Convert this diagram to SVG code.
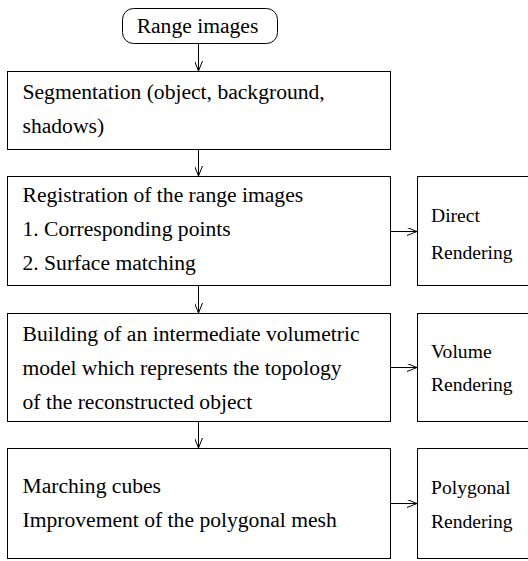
<svg xmlns="http://www.w3.org/2000/svg" width="528" height="561" viewBox="0 0 528 561">
  <style>
    .box { fill: #fff; stroke: #000; stroke-width: 1; }
    .lbl { font-size: 21.6px; fill: #000; }
    .lbl-s { font-size: 19.6px; fill: #000; }
    .wire { fill: none; stroke: #000; stroke-width: 1; }
  </style>
  <defs>
    <marker id="vee" viewBox="0 0 10 8" refX="10" refY="4" markerWidth="10" markerHeight="8" markerUnits="userSpaceOnUse" orient="auto">
      <path d="M0,0 L10,4 L0,8" fill="none" stroke="#000" stroke-width="1"/>
    </marker>
  </defs>
  <rect width="528" height="561" fill="#fff"/>

  <g font-family="'Liberation Serif', 'DejaVu Serif', serif">
  <!-- pipeline steps -->
  <g id="range-images">
    <rect class="box" x="122.5" y="8.5" width="155" height="35" rx="11" ry="11"/>
    <text class="lbl" x="197.5" y="33" text-anchor="middle">Range images</text>
  </g>

  <g id="segmentation">
    <rect class="box" x="7.5" y="71.5" width="383" height="78"/>
    <text class="lbl" x="22.5" y="99">Segmentation (object, background,</text>
    <text class="lbl" x="22.5" y="133">shadows)</text>
  </g>

  <g id="registration">
    <rect class="box" x="7.5" y="176.5" width="383" height="109"/>
    <text class="lbl" x="22.5" y="202">Registration of the range images</text>
    <text class="lbl" x="22.5" y="236">1. Corresponding points</text>
    <text class="lbl" x="22.5" y="270">2. Surface matching</text>
  </g>

  <g id="volumetric-model">
    <rect class="box" x="7.5" y="313.5" width="383" height="108"/>
    <text class="lbl" x="22.5" y="341">Building of an intermediate volumetric</text>
    <text class="lbl" x="22.5" y="375">model which represents the topology</text>
    <text class="lbl" x="22.5" y="409">of the reconstructed object</text>
  </g>

  <g id="marching-cubes">
    <rect class="box" x="7.5" y="448.5" width="383" height="110"/>
    <text class="lbl" x="22.5" y="493">Marching cubes</text>
    <text class="lbl" x="22.5" y="527">Improvement of the polygonal mesh</text>
  </g>

  <!-- rendering outputs -->
  <g id="direct-rendering">
    <rect class="box" x="417.5" y="176.5" width="120" height="109"/>
    <text class="lbl-s" x="431" y="222">Direct</text>
    <text class="lbl-s" x="431" y="259">Rendering</text>
  </g>

  <g id="volume-rendering">
    <rect class="box" x="417.5" y="313.5" width="120" height="108"/>
    <text class="lbl-s" x="431" y="358">Volume</text>
    <text class="lbl-s" x="431" y="391">Rendering</text>
  </g>

  <g id="polygonal-rendering">
    <rect class="box" x="417.5" y="448.5" width="120" height="110"/>
    <text class="lbl-s" x="431" y="494">Polygonal</text>
    <text class="lbl-s" x="431" y="528">Rendering</text>
  </g>
  </g>

  <!-- connectors -->
  <g id="connectors">
    <line class="wire" x1="198.5" y1="44" x2="198.5" y2="71" marker-end="url(#vee)"/>
    <line class="wire" x1="198.5" y1="150" x2="198.5" y2="176" marker-end="url(#vee)"/>
    <line class="wire" x1="198.5" y1="286" x2="198.5" y2="313" marker-end="url(#vee)"/>
    <line class="wire" x1="198.5" y1="422" x2="198.5" y2="448" marker-end="url(#vee)"/>
    <line class="wire" x1="391" y1="231.5" x2="417" y2="231.5" marker-end="url(#vee)"/>
    <line class="wire" x1="391" y1="367.5" x2="417" y2="367.5" marker-end="url(#vee)"/>
    <line class="wire" x1="391" y1="503.5" x2="417" y2="503.5" marker-end="url(#vee)"/>
  </g>
</svg>
